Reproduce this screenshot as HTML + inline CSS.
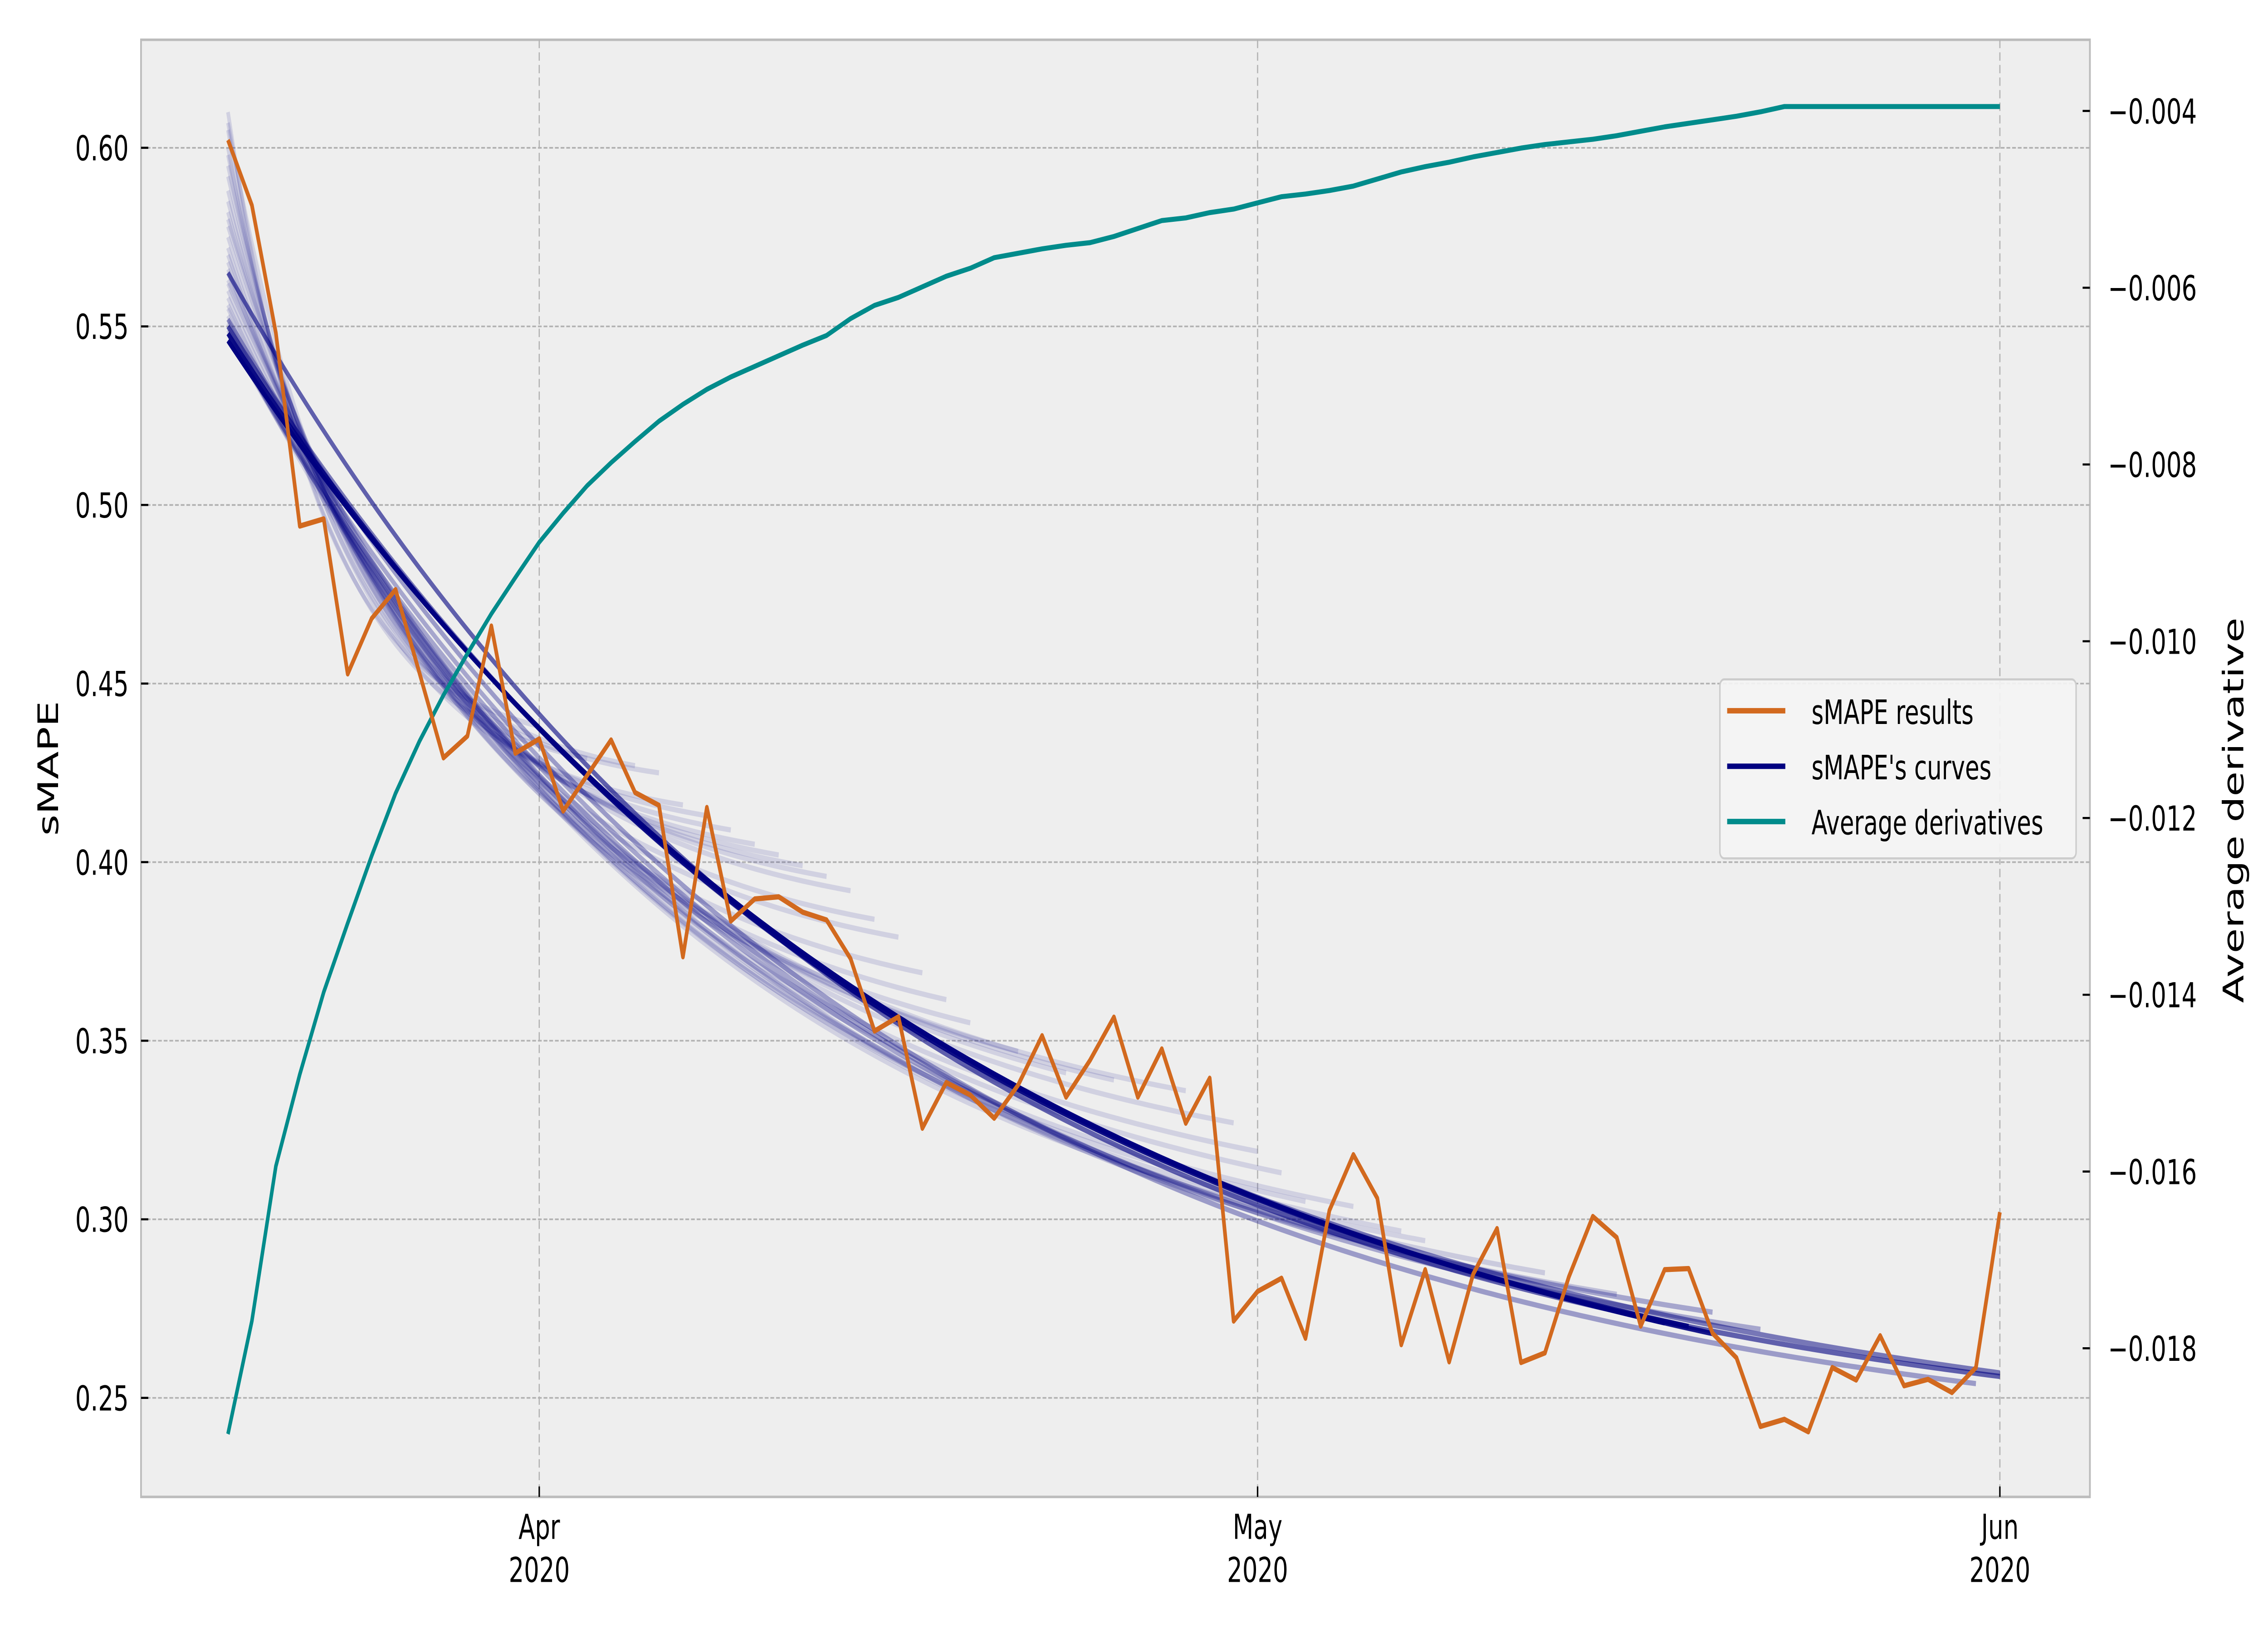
<!DOCTYPE html>
<html><head><meta charset="utf-8"><style>
html,body{margin:0;padding:0;background:#fff;width:100%;height:100%;overflow:hidden;}
svg{display:block;width:100vw;height:100vh;font-family:"DejaVu Sans","Liberation Sans",sans-serif;}
</style></head>
<body>
<svg id="chart" xmlns="http://www.w3.org/2000/svg" viewBox="0 0 1560 780" preserveAspectRatio="none">
<defs><clipPath id="plotclip"><rect x="97" y="19" width="1340.5" height="696"/></clipPath></defs>
<rect x="0" y="0" width="1560" height="780" fill="#ffffff"/>
<rect x="97" y="19" width="1340.5" height="696" fill="#eeeeee" stroke="#bcbcbc" stroke-width="1.2"/>
<g id="grid"></g>
<g id="curves" clip-path="url(#plotclip)"></g>
<g id="series" clip-path="url(#plotclip)"></g>
<g id="axes"></g>
<text x="0" y="0" transform="translate(40,367) rotate(-90)" text-anchor="middle" font-size="19.5" fill="#000">sMAPE</text>
<text x="0" y="0" transform="translate(1543,387) rotate(-90)" text-anchor="middle" font-size="19.5" fill="#000">Average derivative</text>
<g>
<rect x="1183" y="324.5" width="245" height="85.5" rx="3" fill="#f4f4f4" fill-opacity="0.9" stroke="#cccccc" stroke-width="1"/>
<g>
<line x1="1188" y1="339.5" x2="1228" y2="339.5" stroke="#d2691e" stroke-width="2.6"/>
<text x="1246" y="345.8" font-size="16" fill="#000">sMAPE results</text></g>
<g>
<line x1="1188" y1="366" x2="1228" y2="366" stroke="#000080" stroke-width="2.6"/>
<text x="1246" y="372.2" font-size="16" fill="#000">sMAPE's curves</text></g>
<g>
<line x1="1188" y1="392.4" x2="1228" y2="392.4" stroke="#008b8b" stroke-width="2.6"/>
<text x="1246" y="398.6" font-size="16" fill="#000">Average derivatives</text></g>
</g>
</svg>
<script>
// ---- data ----
const startDateLabel = "2020-03-19";
const smapeResults = [0.6022,0.5839,0.5482,0.4941,0.4961,0.4527,0.4682,0.4763,0.4529,0.4292,
0.4353,0.4661,0.4305,0.4345,0.4143,0.4243,0.4342,0.4195,0.4159,0.3735,
0.4153,0.3835,0.3897,0.3903,0.3860,0.3838,0.3730,0.3527,0.3567,0.3255,
0.3383,0.3348,0.3283,0.3376,0.3514,0.3342,0.3445,0.3566,0.3342,0.3477,
0.3269,0.3395,0.2715,0.2798,0.2835,0.2667,0.3025,0.3181,0.3059,0.2649,
0.2859,0.2601,0.2846,0.2974,0.2599,0.2626,0.2839,0.3008,0.2949,0.2701,
0.2859,0.2862,0.2681,0.2612,0.2420,0.2440,0.2405,0.2585,0.2550,0.2674,
0.2534,0.2552,0.2515,0.2585,0.3020];
const avgDerivatives = [-0.01897,-0.01769,-0.01594,-0.01490,-0.01397,-0.01319,-0.01243,-0.01172,-0.01113,-0.01061,
-0.01014,-0.00969,-0.00928,-0.00888,-0.00855,-0.00824,-0.00798,-0.00774,-0.00751,-0.00732,
-0.00715,-0.00701,-0.00689,-0.00677,-0.00665,-0.00654,-0.00635,-0.00620,-0.00611,-0.00599,
-0.00587,-0.00578,-0.00566,-0.00561,-0.00556,-0.00552,-0.00549,-0.00542,-0.00533,-0.00524,
-0.00521,-0.00515,-0.00511,-0.00504,-0.00497,-0.00494,-0.00490,-0.00485,-0.00477,-0.00469,
-0.00463,-0.00458,-0.00452,-0.00447,-0.00442,-0.00438,-0.00435,-0.00432,-0.00428,-0.00423,
-0.00418,-0.00414,-0.00410,-0.00406,-0.00401,-0.00395,-0.00395,-0.00395,-0.00395,-0.00395,
-0.00395,-0.00395,-0.00395,-0.00395,-0.00395];
// fitted curves: start value, last day, value at last day, decay constant (days), opacity
const curveStart = [0.610,0.605,0.607,0.600,0.598,0.595,0.592,0.588,0.585,0.582,0.580,0.578,0.575,0.572,0.570,0.568,0.566,0.565,0.563,0.562,0.560,0.558,0.556,0.555,0.553,0.552,0.551,0.550,0.549,0.548,0.548,0.550,0.552,0.546,0.548,0.546,0.565,0.550];
const curveEndDay = [13,15,17,18,19,20,21,22,23,24,25,26,27,28,29,30,31,33,35,37,40,42,43,44,45,47,49,50,55,58,62,64,73,60,61,62,74,74];
const curveEndValue = [0.438,0.429,0.427,0.425,0.416,0.413,0.409,0.405,0.402,0.399,0.396,0.392,0.384,0.379,0.369,0.3615,0.355,0.347,0.341,0.339,0.336,0.327,0.319,0.313,0.305,0.3036,0.2967,0.294,0.285,0.279,0.274,0.2692,0.254,0.271,0.270,0.268,0.256,0.257];
const curveTau = [4,4.5,5,5,5.5,6,6.5,7,7.5,8,8.5,9,9.5,10,11,12,13,15,16,16,16,17,18,19,20,20,21,21,23,24,25,26,28,32,31,32,28,30];
const curveAlpha = [0.12,0.12,0.12,0.12,0.12,0.12,0.12,0.12,0.12,0.12,0.12,0.12,0.12,0.12,0.12,0.12,0.12,0.12,0.12,0.12,0.12,0.12,0.12,0.12,0.12,0.12,0.12,0.12,0.15,0.2,0.3,0.3,0.35,0.9,0.9,0.9,0.6,0.5];
const leftTicks = [0.25,0.30,0.35,0.40,0.45,0.50,0.55,0.60];
const leftTickLabels = ["0.25","0.30","0.35","0.40","0.45","0.50","0.55","0.60"];
const rightTicks = [-0.018,-0.016,-0.014,-0.012,-0.010,-0.008,-0.006,-0.004];
const rightTickLabels = ["\u22120.018","\u22120.016","\u22120.014","\u22120.012","\u22120.010","\u22120.008","\u22120.006","\u22120.004"];
const xTickDays = [13,43,74];
const xTickMonths = ["Apr","May","Jun"];
const xTickYears = ["2020","2020","2020"];

// ---- scales ----
function xDay(d){return 156.8 + d*16.47;}
function yL(v){return 70.6 + (0.60 - v)/0.05*85.3;}
function yR(v){return 53 + (-0.004 - v)/0.002*84.43;}
const NS="http://www.w3.org/2000/svg";
function mk(tag, attrs, parent){const e=document.createElementNS(NS,tag);for(const k in attrs)e.setAttribute(k,attrs[k]);parent.appendChild(e);return e;}

const grid=document.getElementById('grid');
const axes=document.getElementById('axes');
leftTicks.forEach((v,i)=>{
  const y=yL(v);
  const g=mk('line',{x1:97,x2:1437.5,y1:y,y2:y,stroke:'#b2b2b2','stroke-width':0.8,'stroke-dasharray':'2.6 1.3'},grid);
  
  
  const t=mk('line',{x1:97,x2:102,y1:y,y2:y,stroke:'#000','stroke-width':1},axes);
  
  
  const l=mk('text',{x:88.5,y:y+6,'text-anchor':'end','font-size':16.5,fill:'#000'},axes);
  l.textContent=leftTickLabels[i];
  
  
});
rightTicks.forEach((v,i)=>{
  const y=yR(v);
  const t=mk('line',{x1:1432.5,x2:1437.5,y1:y,y2:y,stroke:'#000','stroke-width':1},axes);
  
  
  const l=mk('text',{x:1450,y:y+6,'text-anchor':'start','font-size':16.5,fill:'#000'},axes);
  l.textContent=rightTickLabels[i];
  
  
});
xTickDays.forEach((d,i)=>{
  const x=xDay(d);
  const g=mk('line',{x1:x,x2:x,y1:19,y2:715,stroke:'#b2b2b2','stroke-width':0.8,'stroke-dasharray':'4 2'},grid);
  
  
  const t=mk('line',{x1:x,x2:x,y1:710,y2:715,stroke:'#000','stroke-width':1},axes);
  
  
  const l1=mk('text',{x:x,y:735,'text-anchor':'middle','font-size':16.5,fill:'#000'},axes);
  l1.textContent=xTickMonths[i];
  
  
  const l2=mk('text',{x:x,y:755.6,'text-anchor':'middle','font-size':16.5,fill:'#000'},axes);
  l2.textContent=xTickYears[i];
  
  
});

// fitted curves
const curves=document.getElementById('curves');
curveStart.forEach((s,k)=>{
  const e=curveEndDay[k], ve=curveEndValue[k], tau=curveTau[k];
  const d=(s-ve)/(1-Math.exp(-e/tau)), c=s-d;
  let pts=[];
  for(let t=0;t<=e;t+=0.25){pts.push(xDay(t).toFixed(2)+','+yL(c+d*Math.exp(-t/tau)).toFixed(2));}
  const p=mk('polyline',{points:pts.join(' '),fill:'none',stroke:'#000080','stroke-opacity':curveAlpha[k],'stroke-width':2.5,'stroke-linejoin':'round'},curves);
  
  
});

// series
const series=document.getElementById('series');
const tp=avgDerivatives.map((v,i)=>xDay(i).toFixed(2)+','+yR(v).toFixed(2)).join(' ');
const teal=mk('polyline',{points:tp,fill:'none',stroke:'#008b8b','stroke-width':2.4,'stroke-linejoin':'round'},series);


const op=smapeResults.map((v,i)=>xDay(i).toFixed(2)+','+yL(v).toFixed(2)).join(' ');
const orange=mk('polyline',{points:op,fill:'none',stroke:'#d2691e','stroke-width':2.5,'stroke-linejoin':'round'},series);


</script>
</body></html>
